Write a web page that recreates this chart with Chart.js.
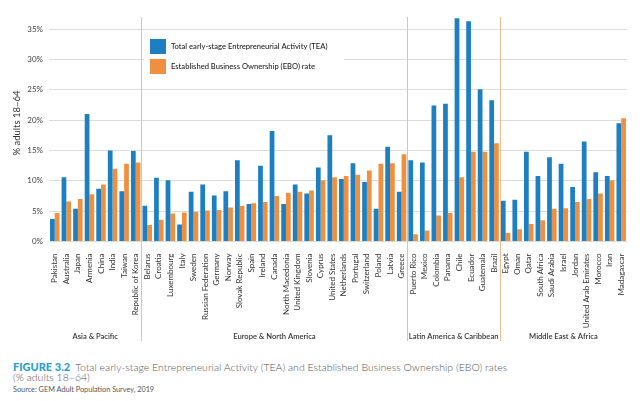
<!DOCTYPE html>
<html>
<head>
<meta charset="utf-8">
<script src="https://cdn.jsdelivr.net/npm/chart.js@4"></script>
<style>
  body { margin: 0; background: #fff; }
  #wrap { position: relative; width: 640px; height: 401px; overflow: hidden; }
  #chart-box { position: absolute; left: 0; top: 0; width: 640px; height: 350px; }
  .caption { position: absolute; left: 13px; font-family: Lato, sans-serif; color: #555; white-space: nowrap; line-height: 1; }
  .fig { color: #27a0cf; font-weight: 900; font-size: 11px; margin-right: 5px; }
</style>
</head>
<body>
<div id="wrap">
  <div id="chart-box"><canvas id="gemChart"></canvas></div>
  <div class="caption" style="top:361px; font-size:10.5px; font-weight:300;"><span class="fig">FIGURE 3.2</span>Total early-stage Entrepreneurial Activity (TEA) and Established Business Ownership (EBO) rates</div>
  <div class="caption" style="top:372px; font-size:10.5px; font-weight:300;">(% adults 18–64)</div>
  <div class="caption" style="top:386px; font-size:7.3px;">Source: GEM Adult Population Survey, 2019</div>
</div>
<script>
  const categories = [
    'Pakistan', 'Australia', 'Japan', 'Armenia', 'China', 'India', 'Taiwan', 'Republic of Korea',
    'Belarus', 'Croatia', 'Luxembourg', 'Italy', 'Sweden', 'Russian Federation', 'Germany', 'Norway',
    'Slovak Republic', 'Spain', 'Ireland', 'Canada', 'North Macedonia', 'United Kingdom', 'Slovenia',
    'Cyprus', 'United States', 'Netherlands', 'Portugal', 'Switzerland', 'Poland', 'Latvia', 'Greece',
    'Puerto Rico', 'Mexico', 'Colombia', 'Panama', 'Chile', 'Ecuador', 'Guatemala', 'Brazil',
    'Egypt', 'Oman', 'Qatar', 'South Africa', 'Saudi Arabia', 'Israel', 'Jordan',
    'United Arab Emirates', 'Morocco', 'Iran', 'Madagascar'
  ];

  // Total early-stage Entrepreneurial Activity (%)
  const teaValues = [
    3.7, 10.6, 5.4, 21.0, 8.7, 15.0, 8.3, 14.9,
    5.9, 10.5, 10.1, 2.8, 8.2, 9.4, 7.6, 8.3,
    13.4, 6.2, 12.5, 18.2, 6.2, 9.4, 7.9,
    12.2, 17.5, 10.3, 12.9, 9.8, 5.4, 15.6, 8.2,
    13.4, 13.0, 22.4, 22.7, 36.8, 36.3, 25.1, 23.3,
    6.7, 6.9, 14.8, 10.8, 13.9, 12.8, 9.0,
    16.5, 11.4, 10.8, 19.5
  ];

  // Established Business Ownership rate (%)
  const eboValues = [
    4.7, 6.6, 7.0, 7.8, 9.4, 12.0, 12.8, 13.0,
    2.7, 3.6, 4.6, 4.8, 4.9, 5.1, 5.2, 5.6,
    5.9, 6.3, 6.5, 7.5, 8.0, 8.2, 8.4,
    10.1, 10.6, 10.8, 11.0, 11.7, 12.8, 12.9, 14.4,
    1.2, 1.8, 4.3, 4.7, 10.6, 14.8, 14.8, 16.2,
    1.4, 2.0, 2.9, 3.5, 5.4, 5.5, 6.5,
    7.0, 7.9, 10.1, 20.3
  ];

  const regionNames = ['Asia & Pacific', 'Europe & North America', 'Latin America & Caribbean', 'Middle East & Africa'];
  const regionCounts = [8, 23, 8, 11];
  const yTicks = [0, 5, 10, 15, 20, 25, 30, 35];
  const yTitle = '% adults 18–64';

  const FONT = 'Lato, sans-serif';

  // Legend box, y title, region dividers and region names
  const regionPlugin = {
    id: 'regionPlugin',
    afterDraw (chart) {
      const ctx = chart.ctx;
      const area = chart.chartArea;
      const x = chart.scales.x;
      const step = x.getPixelForValue(1) - x.getPixelForValue(0);

      ctx.save();
      // y axis title
      ctx.save();
      ctx.translate(17, 123);
      ctx.rotate(-Math.PI / 2);
      ctx.fillStyle = '#333';
      ctx.font = '9.5px ' + FONT;
      ctx.textAlign = 'center';
      ctx.textBaseline = 'middle';
      ctx.fillText(yTitle, 0, 0);
      ctx.restore();

      // legend
      ctx.fillStyle = '#fff';
      ctx.fillRect(144, 33, 200, 50);
      ctx.font = '500 7.6px ' + FONT;
      ctx.textAlign = 'left';
      ctx.textBaseline = 'middle';
      chart.data.datasets.forEach((ds, i) => {
        const top = 39 + i * 20;
        ctx.fillStyle = ds.backgroundColor;
        ctx.fillRect(150, top, 16, 15);
        ctx.fillStyle = '#222';
        ctx.fillText(ds.label, 171, top + 8);
      });

      // dividers
      ctx.strokeStyle = '#ebbd8f';
      ctx.lineWidth = 1;
      let start = 0;
      regionCounts.forEach((count, i) => {
        const left = x.getPixelForValue(start) - step / 2;
        const right = x.getPixelForValue(start + count - 1) + step / 2;
        if (i < regionCounts.length - 1) {
          const px = Math.round(right) + 0.5;
          ctx.beginPath();
          ctx.moveTo(px, area.top);
          ctx.lineTo(px, 341);
          ctx.stroke();
        }
        ctx.fillStyle = '#333';
        ctx.font = '600 7.6px ' + FONT;
        ctx.textAlign = 'center';
        ctx.textBaseline = 'middle';
        ctx.fillText(regionNames[i], (left + right) / 2, 337);
        start += count;
      });
      ctx.restore();
    }
  };

  const ctx = document.getElementById('gemChart').getContext('2d');
  const gemChart = new Chart(ctx, {
    type: 'bar',
    data: {
      labels: categories,
      datasets: [{
        label: 'Total early-stage Entrepreneurial Activity (TEA)',
        data: teaValues,
        backgroundColor: '#1b7fc1',
        barPercentage: 1,
        categoryPercentage: 0.82
      }, {
        label: 'Established Business Ownership (EBO) rate',
        data: eboValues,
        backgroundColor: '#f0903f',
        barPercentage: 1,
        categoryPercentage: 0.82
      }]
    },
    options: {
      responsive: true,
      maintainAspectRatio: false,
      animation: false,
      layout: { padding: { left: 0, right: 13, top: 17, bottom: 0 } },
      plugins: {
        legend: { display: false },
        tooltip: { enabled: false }
      },
      scales: {
        x: {
          grid: { display: false },
          border: { display: false },
          ticks: {
            autoSkip: false,
            maxRotation: 90,
            minRotation: 90,
            padding: 4,
            color: '#333',
            font: { family: FONT, size: 8 }
          },
          afterFit (scale) { scale.height = 108.5; }
        },
        y: {
          min: 0,
          max: 37,
          border: { display: false },
          grid: { color: '#dcdcdc', drawTicks: false },
          afterBuildTicks (scale) {
            scale.ticks = yTicks.map(v => ({ value: v }));
          },
          ticks: {
            padding: 6,
            color: '#444',
            font: { family: FONT, size: 8 },
            callback: v => v + '%'
          },
          afterFit (scale) { scale.width = 49; }
        }
      }
    },
    plugins: [regionPlugin]
  });
</script>
</body>
</html>
